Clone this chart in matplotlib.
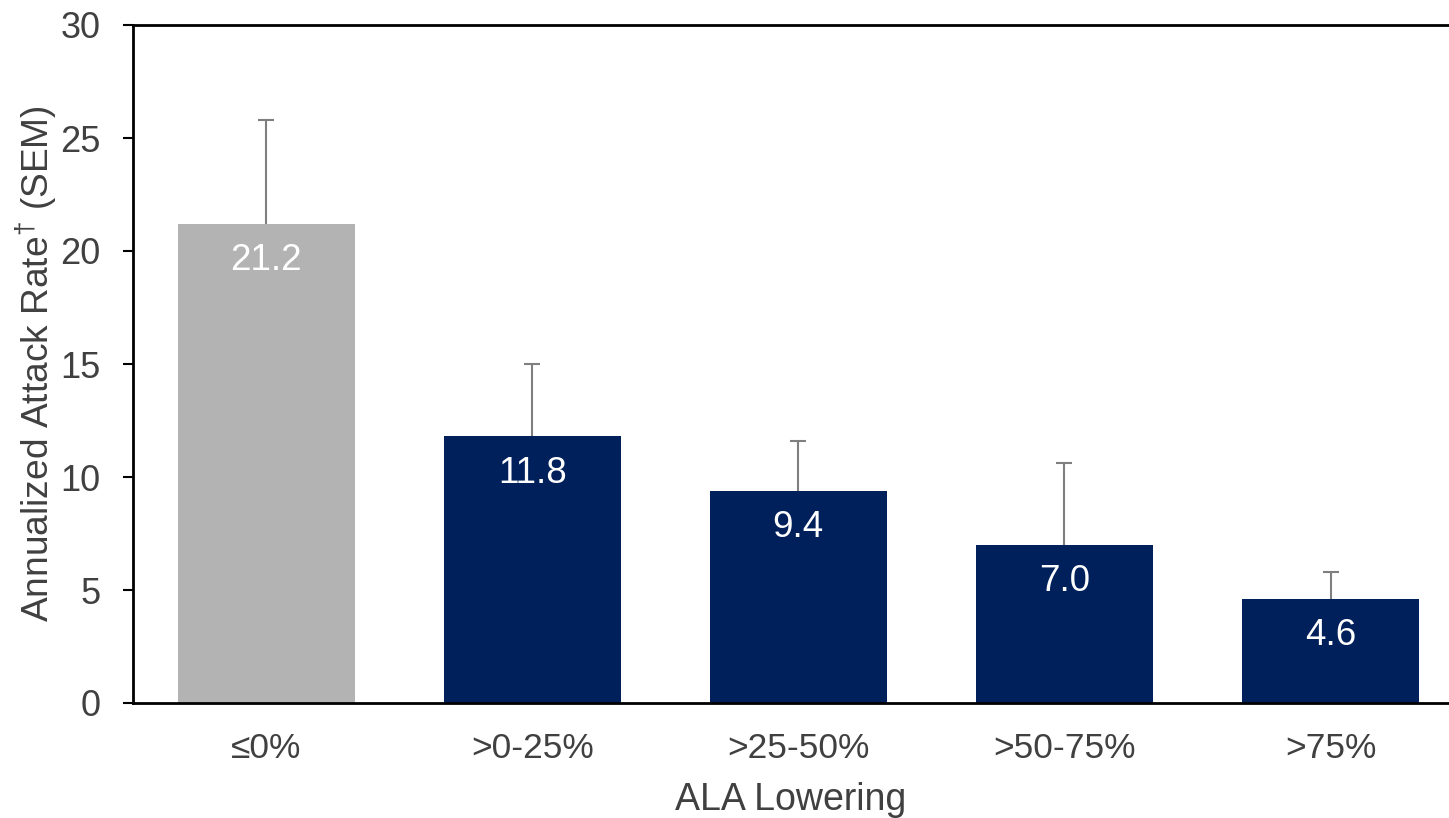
import matplotlib
matplotlib.use("Agg")
import matplotlib.pyplot as plt
import numpy as np

categories = ["≤0%", ">0-25%", ">25-50%", ">50-75%", ">75%"]
values = [21.2, 11.8, 9.4, 7.0, 4.6]
sem = [4.6, 3.2, 2.2, 3.6, 1.2]
colors = ["#B3B3B3", "#00205B", "#00205B", "#00205B", "#00205B"]
value_labels = ["21.2", "11.8", "9.4", "7.0", "4.6"]

plt.rcParams['font.family'] = ['Liberation Sans', 'DejaVu Sans']
plt.rcParams['mathtext.fontset'] = 'custom'
plt.rcParams['mathtext.rm'] = 'Liberation Sans'
plt.rcParams['mathtext.it'] = 'Liberation Sans'

TXT = "#404040"
fig = plt.figure(figsize=(14.49, 8.18), dpi=100)
ax = fig.add_axes([133/1449, 1-703/818, 1-133/1449, (703-25)/818])

x = np.arange(len(categories))
vals = np.array(values)
errs = np.array(sem)

ax.vlines(x, vals, vals + errs, colors="#7F7F7F", linewidth=1.5, zorder=1)
ax.plot(x, vals + errs, ls="none", marker="_", ms=12, mew=1.5, color="#7F7F7F", zorder=1)
ax.bar(x, vals, width=0.665, color=colors, zorder=2)

for xi, v, lab in zip(x, vals, value_labels):
    ax.annotate(lab, xy=(xi, v), xytext=(0, -14), textcoords="offset points",
                ha="center", va="top", color="white", fontsize=26.5, zorder=3)

ax.set_xlim(-0.5, 4.445)
ax.set_ylim(0, 30)
ax.set_yticks([0, 5, 10, 15, 20, 25, 30])
ax.set_xticks(x)
ax.set_xticklabels(categories)
ax.tick_params(axis="y", direction="out", length=7.2, width=1.5, color="black",
               labelsize=26, labelcolor=TXT, pad=16)
ax.tick_params(axis="x", length=0, labelsize=25.5, labelcolor=TXT, pad=21)

for s in ["left", "bottom", "top"]:
    ax.spines[s].set_linewidth(2)
    ax.spines[s].set_color("black")
ax.spines["right"].set_visible(False)

ax.set_ylabel(r"Annualized Attack Rate$^{\dagger}$ (SEM)", fontsize=26.7, color=TXT, labelpad=1)
ax.set_xlabel("ALA Lowering", fontsize=27, color=TXT, labelpad=12)

fig.savefig("out.png", dpi=100)
